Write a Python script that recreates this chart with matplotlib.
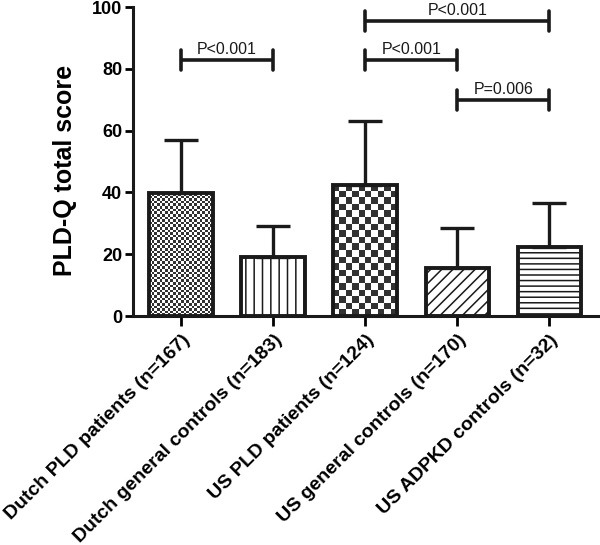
import numpy as np
import matplotlib
matplotlib.use("Agg")
import matplotlib.pyplot as plt

# data
groups = ["Dutch PLD patients (n=167)", "Dutch general controls (n=183)",
          "US PLD patients (n=124)", "US general controls (n=170)",
          "US ADPKD controls (n=32)"]
means = [39.8, 19.1, 42.4, 15.5, 22.3]
sds = [17.2, 10.0, 20.7, 13.0, 14.3]
yticks = [0, 20, 40, 60, 80, 100]

# significance brackets: (left group, right group, height, text)
brackets = [(0, 1, 83, "P<0.001"),
            (2, 4, 95.5, "P<0.001"),
            (2, 3, 83, "P<0.001"),
            (3, 4, 70, "P=0.006")]

plt.rcParams['font.family'] = ['Liberation Sans', 'DejaVu Sans']
plt.rcParams['hatch.linewidth'] = 1.1

W, H, DPI = 6.0, 5.45, 100
fig = plt.figure(figsize=(W, H), dpi=DPI)
ax_pos = [0.222, 0.420, 0.775, 0.567]
ax = fig.add_axes(ax_pos)

x = np.arange(len(groups))
width = 0.69
xlim = (-0.52, 4.53)
ylim = (0, 100)

# pixel scale, used to size the checkerboard squares
px_x = ax_pos[2] * W * DPI / (xlim[1] - xlim[0])
px_y = ax_pos[3] * H * DPI / (ylim[1] - ylim[0])

hatches = [None, '||', None, '///', '---']
checker_px = {0: 2.6, 2: 6.6}

bars = ax.bar(x, means, width, facecolor='none', edgecolor='#1a1a1a',
              linewidth=2.8, zorder=3)
for i, b in enumerate(bars):
    if hatches[i]:
        b.set_hatch(hatches[i])
    if i in checker_px:
        cell = checker_px[i]
        nx = max(1, int(round(b.get_width() * px_x / cell)))
        ny = max(1, int(round(b.get_height() * px_y / cell)))
        board = np.indices((ny, nx)).sum(axis=0) % 2
        im = ax.imshow(board, cmap='gray_r', vmin=0, vmax=1.25,
                       interpolation='nearest', aspect='auto',
                       extent=(b.get_x(), b.get_x() + b.get_width(), 0, b.get_height()),
                       origin='lower', zorder=2)
        im.set_clip_path(b)

ax.errorbar(x, means, yerr=[np.zeros(len(sds)), sds], fmt='none',
            ecolor='#1a1a1a', elinewidth=2.4, capsize=12, capthick=2.4, zorder=2.5)

for a, b, h, txt in brackets:
    ax.plot([a, b], [h, h], color='#1a1a1a', lw=2.6, solid_capstyle='butt',
            zorder=4, clip_on=False)
    for xx in (a, b):
        ax.plot([xx, xx], [h - 3.2, h + 3.2], color='#1a1a1a', lw=2.6,
                solid_capstyle='round', zorder=4, clip_on=False)
    ax.text((a + b) / 2, h + 1.0, txt, ha='center', va='bottom', fontsize=11.5,
            color='#1a1a1a', clip_on=False)

ax.set_xlim(*xlim)
ax.set_ylim(*ylim)
ax.set_yticks(yticks)
ax.set_xticks(x)
ax.set_xticklabels(groups, rotation=45, ha='right', va='top',
                   rotation_mode='anchor', fontsize=14, fontweight='bold')
ax.tick_params(axis='y', labelsize=13, width=2, length=6, pad=2)
ax.tick_params(axis='x', width=2, length=7, pad=4)
for lbl in ax.get_yticklabels():
    lbl.set_fontweight('bold')
ax.set_ylabel("PLD-Q total score", fontsize=18, fontweight='bold')
ax.yaxis.set_label_coords(-0.12, 0.47)

for s in ('top', 'right'):
    ax.spines[s].set_visible(False)
for s in ('left', 'bottom'):
    ax.spines[s].set_linewidth(2.2)
    ax.spines[s].set_color('#1a1a1a')

fig.savefig("out.png", dpi=DPI)
